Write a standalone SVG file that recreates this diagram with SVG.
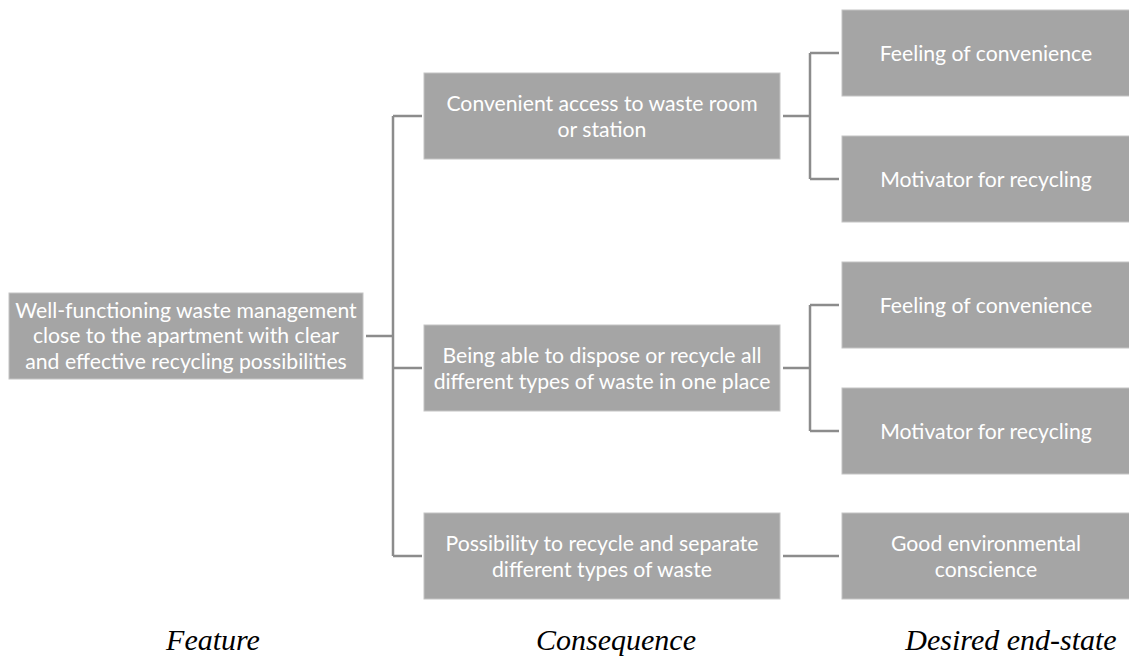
<svg xmlns="http://www.w3.org/2000/svg" width="1129" height="669" viewBox="0 0 1129 669">
<style>
.box{fill:#a5a5a5;stroke:#c4c4c4;stroke-width:1}
.t{font-family:Lato,"Open Sans","Liberation Sans",sans-serif;font-size:21.2px;fill:#ffffff;text-anchor:middle}
.c{fill:none;stroke:#8c8c8c;stroke-width:2.5}
.lab{font-family:"Liberation Serif","Times New Roman",serif;font-style:italic;font-size:30px;fill:#000;text-anchor:middle}
</style>
<rect width="1129" height="669" fill="#ffffff"/>
<g id="connectors">
<path class="c" d="M366 336H393M393 116V556M393 116H422M393 368H422M393 556H422"/>
<path class="c" d="M783 116H810M810 53V179M810 53H839M810 179H839"/>
<path class="c" d="M783 368H810M810 305V431M810 305H839M810 431H839"/>
<path class="c" d="M783 556H839"/>
</g>
<g id="feature">
<rect class="box" x="9" y="293" width="354" height="86"/>
<text class="t" x="186"><tspan x="186" y="317.5">Well-functioning waste management</tspan><tspan x="186" y="343">close to the apartment with clear</tspan><tspan x="186" y="368.5">and effective recycling possibilities</tspan></text>
</g>
<g id="cons1">
<rect class="box" x="424" y="73" width="356" height="86"/>
<text class="t"><tspan x="602" y="111">Convenient access to waste room</tspan><tspan x="602" y="136.5">or station</tspan></text>
</g>
<g id="cons2">
<rect class="box" x="424" y="325" width="356" height="86"/>
<text class="t"><tspan x="602" y="363">Being able to dispose or recycle all</tspan><tspan x="602" y="388.5">different types of waste in one place</tspan></text>
</g>
<g id="cons3">
<rect class="box" x="424" y="513" width="356" height="86"/>
<text class="t"><tspan x="602" y="551">Possibility to recycle and separate</tspan><tspan x="602" y="576.5">different types of waste</tspan></text>
</g>
<g id="end1">
<rect class="box" x="842" y="10" width="290" height="86"/>
<text class="t" x="986" y="61">Feeling of convenience</text>
</g>
<g id="end2">
<rect class="box" x="842" y="136" width="290" height="86"/>
<text class="t" x="986" y="187">Motivator for recycling</text>
</g>
<g id="end3">
<rect class="box" x="842" y="262" width="290" height="86"/>
<text class="t" x="986" y="313">Feeling of convenience</text>
</g>
<g id="end4">
<rect class="box" x="842" y="388" width="290" height="86"/>
<text class="t" x="986" y="439">Motivator for recycling</text>
</g>
<g id="end5">
<rect class="box" x="842" y="513" width="290" height="86"/>
<text class="t"><tspan x="986" y="551">Good environmental</tspan><tspan x="986" y="576.5">conscience</tspan></text>
</g>
<g id="labels">
<text class="lab" x="213" y="650">Feature</text>
<text class="lab" x="616" y="650">Consequence</text>
<text class="lab" x="1011" y="650">Desired end-state</text>
</g>
</svg>
